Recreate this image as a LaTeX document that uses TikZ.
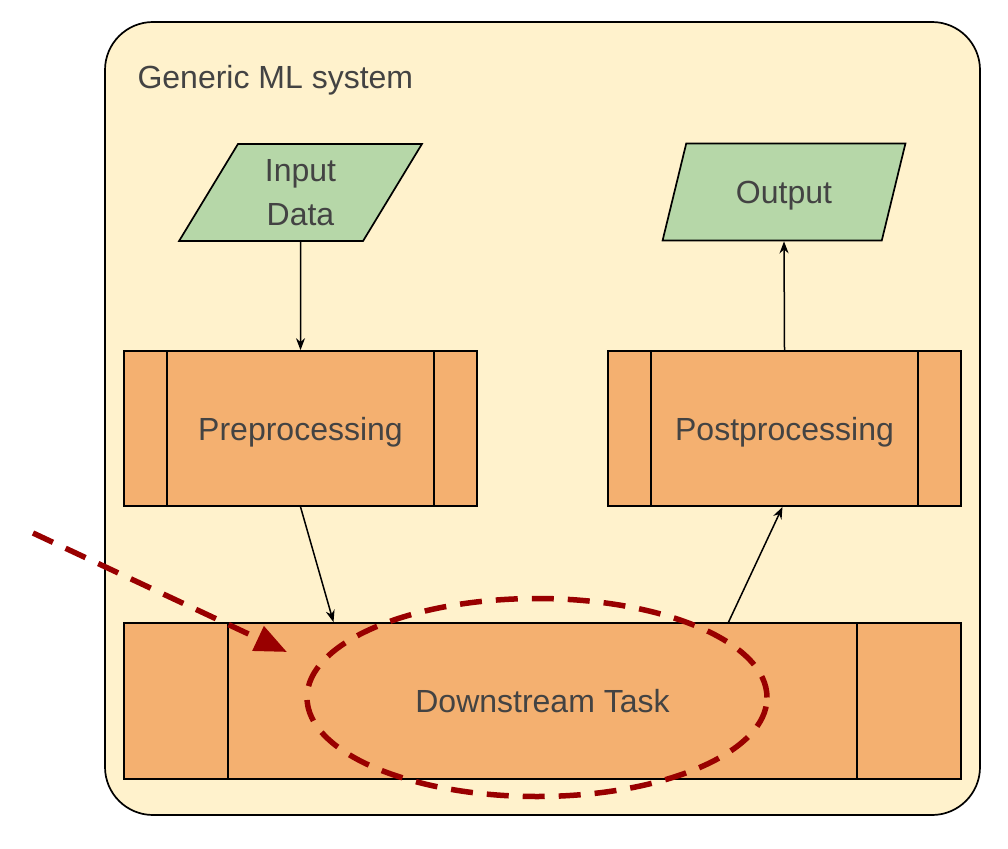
\documentclass[tikz,border=0pt]{standalone}
\usepackage{fontspec}
\setmainfont{Liberation Sans}
\usetikzlibrary{shapes.geometric,arrows.meta}
\definecolor{bgc}{HTML}{FFF2CC}
\definecolor{boxc}{HTML}{F4B070}
\definecolor{greenc}{HTML}{B6D7A8}
\definecolor{txtc}{HTML}{434343}
\definecolor{redc}{HTML}{990000}
\tikzset{
  lbl/.style={text=txtc,font=\fontsize{32}{44}\selectfont},
  procbox/.style={draw=black,line width=1.7pt,fill=boxc,minimum height=155pt,inner sep=0pt,lbl,text height=23pt,text depth=0pt},
  iobox/.style={draw=black,line width=1.7pt,fill=greenc,trapezium,trapezium left angle=63.2,trapezium right angle=116.8,trapezium stretches=true,minimum width=243pt,minimum height=97pt,inner sep=0pt,lbl,align=center},
  sep/.style={line width=1.7pt},
  conn/.style={line width=1.5pt,-{Stealth[length=12pt,width=9pt]}},
  redline/.style={draw=redc,line width=5.5pt,dash pattern=on 22pt off 14pt}
}
\begin{document}
\begin{tikzpicture}[x=1pt,y=-1pt]
\useasboundingbox (0,0) rectangle (1008,848);
\fill[white] (0,0) rectangle (1008,848);
\draw[line width=1.7pt,fill=bgc,rounded corners=48pt] (105,22) rectangle (980,815);
\node[lbl,anchor=west,text height=23pt,text depth=0pt] (title) at (134,77) {Generic ML system};

\node[iobox] (in) at (300.5,192.5) {Input\\Data};
\node[iobox,text height=23pt,text depth=0pt] (out) at (784,192) {Output};

\node[procbox,minimum width=353pt] (pre) at (300.5,428.5) {Preprocessing};
\draw[sep] ([xshift=44pt]pre.north west) -- ([xshift=44pt]pre.south west);
\draw[sep] ([xshift=-44pt]pre.north east) -- ([xshift=-44pt]pre.south east);

\node[procbox,minimum width=353pt] (post) at (784.5,428.5) {Postprocessing};
\draw[sep] ([xshift=44pt]post.north west) -- ([xshift=44pt]post.south west);
\draw[sep] ([xshift=-44pt]post.north east) -- ([xshift=-44pt]post.south east);

\node[procbox,minimum width=837pt,minimum height=156pt] (down) at (542.5,701) {Downstream Task};
\draw[sep] ([xshift=105pt]down.north west) -- ([xshift=105pt]down.south west);
\draw[sep] ([xshift=-105pt]down.north east) -- ([xshift=-105pt]down.south east);

\draw[conn] (in.south) -- (pre.north);
\draw[conn] (post.north) -- (out.south);
\draw[conn] (pre.south) -- ([xshift=-209pt]down.north);
\draw[conn] ([xshift=186pt]down.north) -- ([xshift=-2pt]post.south);

\coordinate (focus) at (537,697.5);
\draw[redline] (focus) ellipse [x radius=230pt,y radius=99pt];
\coordinate (start) at (33,533);
\coordinate (tip) at (287,652);
\draw[redline,-{Triangle[length=32pt,width=26pt]}] (start) -- (tip);
\end{tikzpicture}
\end{document}
